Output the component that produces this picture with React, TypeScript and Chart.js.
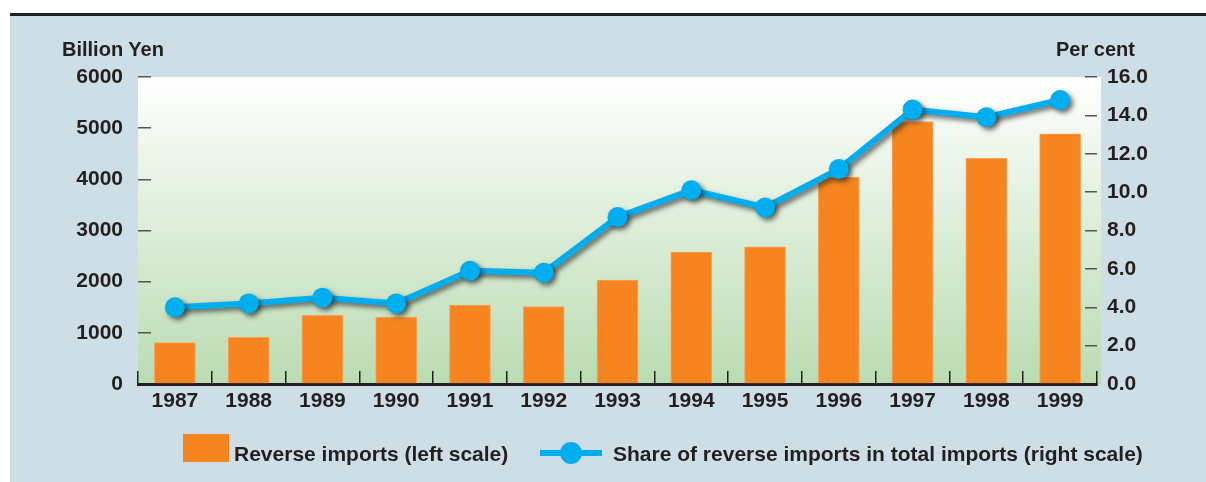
import React, { useEffect, useRef } from "react";
import { Chart, registerables } from "chart.js";

Chart.register(...registerables);

const years = ["1987", "1988", "1989", "1990", "1991", "1992", "1993", "1994", "1995", "1996", "1997", "1998", "1999"];
const reverseImports = [810, 910, 1340, 1310, 1540, 1515, 2030, 2580, 2680, 4040, 5130, 4410, 4890];
const shareOfImports = [4.0, 4.2, 4.5, 4.2, 5.9, 5.8, 8.7, 10.1, 9.2, 11.2, 14.3, 13.9, 14.8];
const leftMax = 6000;
const leftStep = 1000;
const rightMax = 16;
const rightStep = 2;
const leftUnit = "Billion Yen";
const rightUnit = "Per cent";
const barLabel = "Reverse imports (left scale)";
const lineLabel = "Share of reverse imports in total imports (right scale)";

const FONT = '"Liberation Sans", Arial, Helvetica, sans-serif';
const ORANGE = "#f6851f";
const BLUE = "#00aeef";
const INK = "#231f20";
const PANEL = "#cedee6";

const plotBackground = {
  id: "plotBackground",
  beforeDraw(chart: any) {
    const { ctx, chartArea } = chart;
    if (!chartArea) return;
    const { left, top, right, bottom } = chartArea;
    const g = ctx.createLinearGradient(0, top, 0, bottom);
    g.addColorStop(0, "#ffffff");
    g.addColorStop(0.5, "#dcedd8");
    g.addColorStop(1, "#badcb2");
    ctx.save();
    ctx.fillStyle = g;
    ctx.fillRect(left, top, right - left + 4, bottom - top);
    ctx.restore();
  },
};

const lineShadow = {
  id: "lineShadow",
  beforeDatasetDraw(chart: any, args: any) {
    if (args.index !== 1) return;
    const ctx = chart.ctx;
    ctx.save();
    ctx.shadowColor = "rgba(30,30,30,0.65)";
    ctx.shadowBlur = 5;
    ctx.shadowOffsetX = 3;
    ctx.shadowOffsetY = 3;
  },
  afterDatasetDraw(chart: any, args: any) {
    if (args.index !== 1) return;
    chart.ctx.restore();
  },
};

export default function App() {
  const canvasRef = useRef<HTMLCanvasElement | null>(null);

  useEffect(() => {
    if (!canvasRef.current) return;
    const chart = new Chart(canvasRef.current, {
      type: "bar",
      data: {
        labels: years,
        datasets: [
          {
            type: "bar",
            label: barLabel,
            data: reverseImports,
            yAxisID: "y",
            backgroundColor: ORANGE,
            borderColor: "#f9a25a",
            borderWidth: 1,
            barThickness: 41,
            order: 2,
          },
          {
            type: "line",
            label: lineLabel,
            data: shareOfImports,
            yAxisID: "y1",
            borderColor: BLUE,
            backgroundColor: BLUE,
            borderWidth: 6,
            pointRadius: 10,
            pointBackgroundColor: BLUE,
            pointBorderWidth: 0,
            tension: 0,
            order: 1,
          },
        ],
      },
      options: {
        animation: false,
        responsive: false,
        devicePixelRatio: 1,
        layout: { padding: { top: 77, bottom: 58, left: 0, right: 0 } },
        plugins: {
          legend: { display: false },
          tooltip: { enabled: false },
          title: { display: false },
        },
        scales: {
          x: {
            afterFit: (s: any) => {
              s.height = 40;
            },
            grid: {
              offset: true,
              drawOnChartArea: false,
              drawTicks: true,
              tickLength: -13,
              color: INK,
              lineWidth: 1.5,
            },
            border: { display: true, color: INK, width: 3 },
            ticks: {
              color: INK,
              padding: 18,
              font: { family: FONT, size: 21, weight: "bold" },
              maxRotation: 0,
              autoSkip: false,
            },
          },
          y: {
            position: "left",
            min: 0,
            max: leftMax,
            afterFit: (s: any) => {
              s.width = 138;
            },
            grid: {
              drawOnChartArea: false,
              drawTicks: true,
              tickLength: -13,
              color: "#555555",
              lineWidth: 1.5,
            },
            border: { display: false },
            ticks: {
              stepSize: leftStep,
              color: INK,
              padding: 28,
              font: { family: FONT, size: 21, weight: "bold" },
              callback: (v: any) => String(v),
            },
          },
          y1: {
            position: "right",
            min: 0,
            max: rightMax,
            afterFit: (s: any) => {
              s.width = 109;
            },
            grid: {
              drawOnChartArea: false,
              drawTicks: true,
              tickLength: -12,
              color: "#555555",
              lineWidth: 1.5,
            },
            border: { display: false },
            ticks: {
              stepSize: rightStep,
              color: INK,
              padding: 22,
              font: { family: FONT, size: 21, weight: "bold" },
              callback: (v: any) => Number(v).toFixed(1),
            },
          },
        },
      },
      plugins: [plotBackground, lineShadow],
    } as any);
    return () => chart.destroy();
  }, []);

  const textStyle: React.CSSProperties = {
    position: "absolute",
    fontFamily: FONT,
    fontWeight: "bold",
    color: INK,
    whiteSpace: "nowrap",
    lineHeight: 1,
  };

  return (
    <div
      style={{
        position: "absolute",
        left: 0,
        top: 0,
        width: 1206,
        height: 482,
        background: "#ffffff",
        overflow: "hidden",
      }}
    >
      <div style={{ position: "absolute", left: 10, top: 13, width: 1196, height: 3, background: INK }} />
      <div style={{ position: "absolute", left: 10, top: 16, width: 1196, height: 466, background: PANEL }} />
      <canvas
        ref={canvasRef}
        width={1206}
        height={482}
        style={{ position: "absolute", left: 0, top: 0, width: 1206, height: 482 }}
      />
      <div style={{ ...textStyle, left: 62, top: 39, fontSize: 20 }}>{leftUnit}</div>
      <div style={{ ...textStyle, left: 1056, top: 39, fontSize: 20 }}>{rightUnit}</div>
      <div style={{ position: "absolute", left: 183, top: 434, width: 46, height: 28, background: ORANGE }} />
      <div style={{ ...textStyle, left: 234, top: 443, fontSize: 21 }}>{barLabel}</div>
      <div style={{ position: "absolute", left: 540, top: 450, width: 62, height: 6, background: BLUE }} />
      <div
        style={{
          position: "absolute",
          left: 560,
          top: 442,
          width: 22,
          height: 22,
          borderRadius: 11,
          background: BLUE,
        }}
      />
      <div style={{ ...textStyle, left: 613, top: 443, fontSize: 21 }}>{lineLabel}</div>
    </div>
  );
}
